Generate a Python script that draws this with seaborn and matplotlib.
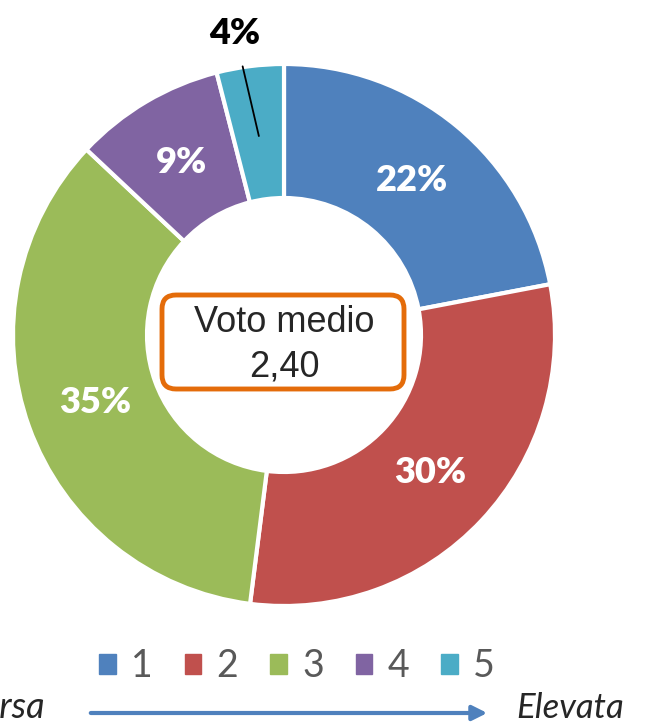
import matplotlib
matplotlib.use("Agg")
import matplotlib.pyplot as plt
import seaborn as sns
from matplotlib.patches import Patch, FancyBboxPatch

# data
categories = ["1", "2", "3", "4", "5"]
shares = [22, 30, 35, 9, 4]
mean_vote = "2,40"
colors = ["#4F81BD", "#C0504D", "#9BBB59", "#8064A2", "#4BACC6"]

sns.set_theme(style="white")
plt.rcParams['font.family'] = ['Lato', 'DejaVu Sans']

W, H = 645, 727
fig = plt.figure(figsize=(W / 100, H / 100), dpi=100)
ax = fig.add_axes([0, 0, 1, 1])

cx, cy = 284, H - 335
R = 271
wedges, texts, autotexts = ax.pie(
    shares, colors=sns.color_palette(colors), startangle=90, counterclock=False,
    radius=R, center=(cx, cy),
    wedgeprops=dict(width=134, edgecolor="white", linewidth=3),
    autopct=lambda p: f"{p:.0f}%", pctdistance=0.74,
    textprops=dict(color="white", fontsize=26, fontweight="heavy"),
)

# small slice: label outside with a leader line
small = autotexts[-1]
px, py = small.get_position()
small.set_visible(False)
ax.annotate(f"{shares[-1]}%", xy=(px, py), xytext=(px - 24, py + 103),
            ha="center", va="center", fontsize=26, fontweight="heavy", color="black",
            arrowprops=dict(arrowstyle="-", color="black", lw=1.3, shrinkA=10, shrinkB=0))

# centre box
box = FancyBboxPatch((162, H - 389), 242, 94, boxstyle="round,pad=0,rounding_size=14",
                     ec="#E46C0A", fc="white", lw=3.5, zorder=3)
ax.add_patch(box)
ax.text(cx, H - 323, "Voto medio", ha="center", va="center", fontsize=26,
        family="Liberation Sans", zorder=4)
ax.text(cx, H - 367, mean_vote, ha="center", va="center", fontsize=26,
        family="Liberation Sans", zorder=4)

# legend
handles = [Patch(color=c, label=l) for c, l in zip(colors, categories)]
ax.legend(handles=handles, ncol=5, loc="center", bbox_to_anchor=(297 / W, 1 - 666 / H),
          frameon=False, fontsize=27, labelcolor="#595959", handlelength=0.45,
          handleheight=0.45, handletextpad=0.4, columnspacing=0.85, borderpad=0)

# scale arrow
ay = H - 713
ax.annotate("", xy=(490, ay), xytext=(88, ay),
            arrowprops=dict(arrowstyle="-|>", color="#4F81BD", lw=3, mutation_scale=22))
ax.text(516, H - 708, "Elevata", ha="left", va="center", fontsize=25, style="italic")
ax.text(45, H - 708, "Scarsa", ha="right", va="center", fontsize=26, style="italic")

ax.set_xlim(0, W)
ax.set_ylim(0, H)
ax.set_aspect("equal")
ax.axis("off")
fig.savefig("out.png", dpi=100)
